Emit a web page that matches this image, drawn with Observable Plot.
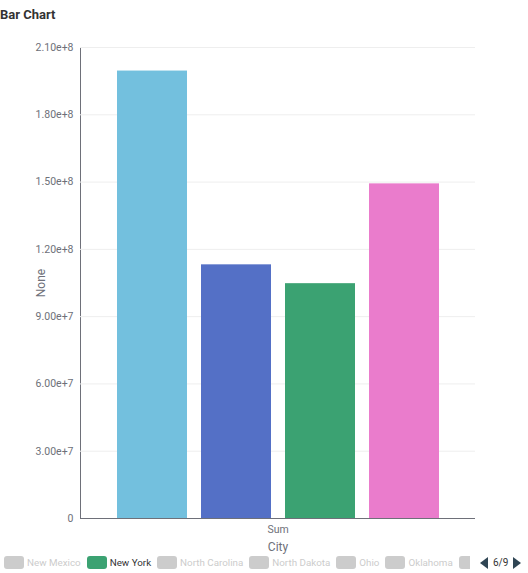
<!DOCTYPE html>
<html>
<head>
<meta charset="utf-8">
<script src="https://cdn.jsdelivr.net/npm/d3@7"></script>
<script src="https://cdn.jsdelivr.net/npm/@observablehq/plot@0.6"></script>
<style>
  body { margin: 0; background: #fff; font-family: Roboto, "Liberation Sans", sans-serif; }
  #title { height: 28px; line-height: 30px; font-weight: bold; font-size: 13px; color: #333; padding-left: 0; }
  #legend { position: relative; height: 17px; font-size: 9.8px; width: 528px; }
  #legend .items { position: absolute; left: 4px; top: -2px; height: 17px; width: 466px; overflow: hidden; display: flex; align-items: center; white-space: nowrap; }
  #legend .item { display: flex; align-items: center; margin-right: 6px; flex: none; }
  #legend .sw { width: 20px; height: 13px; border-radius: 3px; margin-right: 3px; flex: none; }
  #legend .pager { position: absolute; left: 480px; top: -2px; height: 17px; display: flex; align-items: center; color: #333; font-size: 10px; }
  #legend .tri { width: 0; height: 0; border-top: 6px solid transparent; border-bottom: 6px solid transparent; }
  g[aria-label="y-axis label"] text, g[aria-label="fx-axis label"] text { font-size: 12px; }
</style>
</head>
<body>
<div id="title">Bar Chart</div>
<div id="chart"></div>
<div id="legend"></div>
<script>
// Data
const groups = ["Sum"];
const cities = ["California", "Florida", "New York", "Texas"];
const values = [1.995e8, 1.131e8, 1.047e8, 1.492e8];
const colors = ["#73c0de", "#5470c6", "#3ba272", "#ea7ccc"];
const yTicks = [0, 3e7, 6e7, 9e7, 1.2e8, 1.5e8, 1.8e8, 2.1e8];
const legendNames = ["New Mexico", "New York", "North Carolina", "North Dakota", "Ohio", "Oklahoma"];
const legendActive = ["New York"];
const legendPage = "6/9";

const rows = cities.map((c, i) => ({group: groups[0], city: c, value: values[i]}));

const chart = Plot.plot({
  width: 528,
  height: 528,
  marginLeft: 80,
  marginRight: 53,
  marginTop: 19,
  marginBottom: 38,
  style: {fontFamily: "Roboto, 'Liberation Sans', sans-serif", fontSize: "10.5px", color: "#6e7079", background: "#fff"},
  fx: {domain: groups, padding: 0, tickSize: 0, tickPadding: 7, label: "City", labelAnchor: "center", labelOffset: 32, labelArrow: false},
  x: {domain: cities, axis: null, paddingInner: 0.1667, paddingOuter: 0.4345},
  y: {domain: [0, 2.1e8], ticks: yTicks, tickSize: 0, tickPadding: 7, line: true,
      tickFormat: d => d === 0 ? "0" : d3.format(".2e")(d),
      label: "None", labelAnchor: "center", labelOffset: 44, labelArrow: false},
  color: {domain: cities, range: colors},
  marks: [
    Plot.ruleY(yTicks, {stroke: "#eeeeee"}),
    Plot.barY(rows, {fx: "group", x: "city", y: "value", fill: "city"}),
    Plot.ruleY([0], {stroke: "#6e7079"})
  ]
});
document.getElementById("chart").appendChild(chart);

// Legend
const leg = document.getElementById("legend");
const items = document.createElement("div");
items.className = "items";
legendNames.forEach(n => {
  const active = legendActive.includes(n);
  const it = document.createElement("div");
  it.className = "item";
  const sw = document.createElement("div");
  sw.className = "sw";
  sw.style.background = active ? colors[cities.indexOf(n)] : "#cccccc";
  const tx = document.createElement("span");
  tx.textContent = n;
  tx.style.color = active ? "#333" : "#cccccc";
  it.appendChild(sw); it.appendChild(tx);
  items.appendChild(it);
});
// next item on the page, clipped (only its swatch edge shows)
const more = document.createElement("div");
more.className = "sw";
more.style.background = "#cccccc";
items.appendChild(more);
leg.appendChild(items);
const pager = document.createElement("div");
pager.className = "pager";
const tl = document.createElement("div"); tl.className = "tri"; tl.style.borderRight = "8px solid #2f4554";
const pg = document.createElement("span"); pg.textContent = legendPage; pg.style.margin = "0 5px";
const tr = document.createElement("div"); tr.className = "tri"; tr.style.borderLeft = "8px solid #2f4554";
pager.appendChild(tl); pager.appendChild(pg); pager.appendChild(tr);
leg.appendChild(pager);
</script>
</body>
</html>
